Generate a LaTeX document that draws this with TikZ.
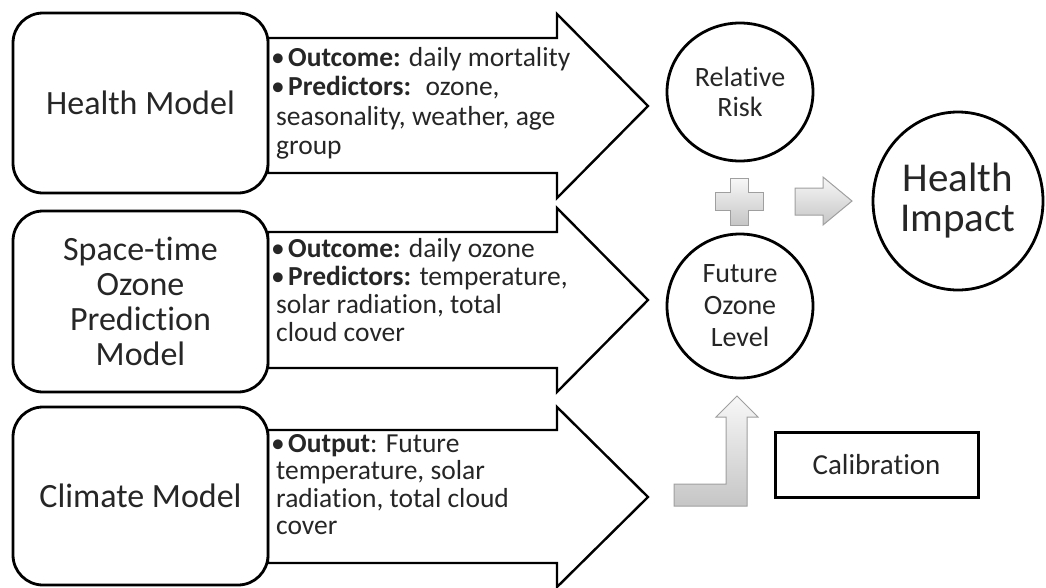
\documentclass[tikz,border=0pt]{standalone}
\usepackage{fontspec}
\setmainfont{Carlito}[Ligatures=NoCommon]
\usetikzlibrary{shapes.geometric}
\newcommand{\mybul}{\makebox[19pt][l]{\hspace*{2pt}•}}
\newcommand{\mycont}{\hspace*{7pt}}
\begin{document}
\begin{tikzpicture}[x=1pt,y=-1pt,
  modelbox/.style={draw, line width=2.8pt, rounded corners=30pt, fill=white, minimum width=255pt, align=center, inner sep=0pt, text=black!85, font=\fontsize{34}{35}\selectfont},
  bigarrow/.style={draw, line width=2.4pt, fill=white, line join=miter},
  roundnode/.style={ellipse, draw, line width=2.8pt, fill=white, inner sep=0pt, align=center, text=black!85},
  bullets/.style={anchor=base west, inner sep=0pt, text=black!85},
  grayshape/.style={draw=gray!75, line width=1pt, top color=gray!6, bottom color=gray!45},
  calbox/.style={draw, line width=3pt, minimum width=203pt, minimum height=65pt, inner sep=0pt, text=black!85, font=\fontsize{29}{30}\selectfont}
]
\useasboundingbox (0,0) rectangle (1046,587);

% big block arrows
\draw[bigarrow] (268,38) -- (557,38) -- (557,14) -- (648,106) -- (557,198) -- (557,173) -- (268,173) -- cycle;
\draw[bigarrow] (268,232) -- (557,232) -- (557,208) -- (648,300) -- (557,392) -- (557,368) -- (268,368) -- cycle;
\draw[bigarrow] (268,430) -- (557,430) -- (557,407) -- (648,497) -- (557,587) -- (557,563) -- (268,563) -- cycle;

% model boxes
\node[modelbox, minimum height=180pt] (health) at (140.5,103) {Health Model};
\node[modelbox, minimum height=181pt] (ozonemodel) at (140.5,301.5) {Space-time\\Ozone\\Prediction\\Model};
\node[modelbox, minimum height=178pt] (climate) at (140.5,496) {Climate Model};

% bullet texts
\node[bullets] (t1) at (269,66) {\parbox[t]{380pt}{\fontsize{27.5}{29.5}\selectfont\raggedright
\mybul\textbf{Outcome:} daily mortality\\
\mybul\textbf{Predictors:}~ ozone,\\
\mycont seasonality, weather, age\\
\mycont group}};
\node[bullets] (t2) at (269,257) {\parbox[t]{380pt}{\fontsize{27.5}{28}\selectfont\raggedright
\mybul\textbf{Outcome:} daily ozone\\
\mybul\textbf{Predictors:} temperature,\\
\mycont solar radiation, total\\
\mycont cloud cover}};
\node[bullets] (t3) at (269,452) {\parbox[t]{380pt}{\fontsize{27.5}{27.5}\selectfont\raggedright
\mybul\textbf{Output}: Future\\
\mycont temperature, solar\\
\mycont radiation, total cloud\\
\mycont cover}};

% circles
\node[roundnode, minimum width=146pt, minimum height=138pt, font=\fontsize{28}{30}\selectfont] (rr) at (740,92) {Relative\\Risk};
\node[roundnode, minimum width=146pt, minimum height=144pt, font=\fontsize{28}{32}\selectfont] (fo) at (740,306) {Future\\Ozone\\Level};
\node[roundnode, minimum width=170pt, minimum height=178pt, font=\fontsize{41}{40}\selectfont] (hi) at (958,201) {Health\\Impact};

% plus sign
\draw[grayshape] (730,178) -- (748,178) -- (748,192) -- (763,192) -- (763,210) -- (748,210) -- (748,225) -- (730,225) -- (730,210) -- (715,210) -- (715,192) -- (730,192) -- cycle;
% right arrow
\draw[grayshape] (795,188) -- (823,188) -- (823,177) -- (852,201) -- (823,225) -- (823,215) -- (795,215) -- cycle;
% bent-up arrow
\draw[grayshape] (674,484) -- (726,484) -- (726,417) -- (716,417) -- (737,396) -- (758,417) -- (747,417) -- (747,506) -- (674,506) -- cycle;

% calibration
\node[calbox] (cal) at (876.5,464.5) {Calibration};
\end{tikzpicture}
\end{document}
